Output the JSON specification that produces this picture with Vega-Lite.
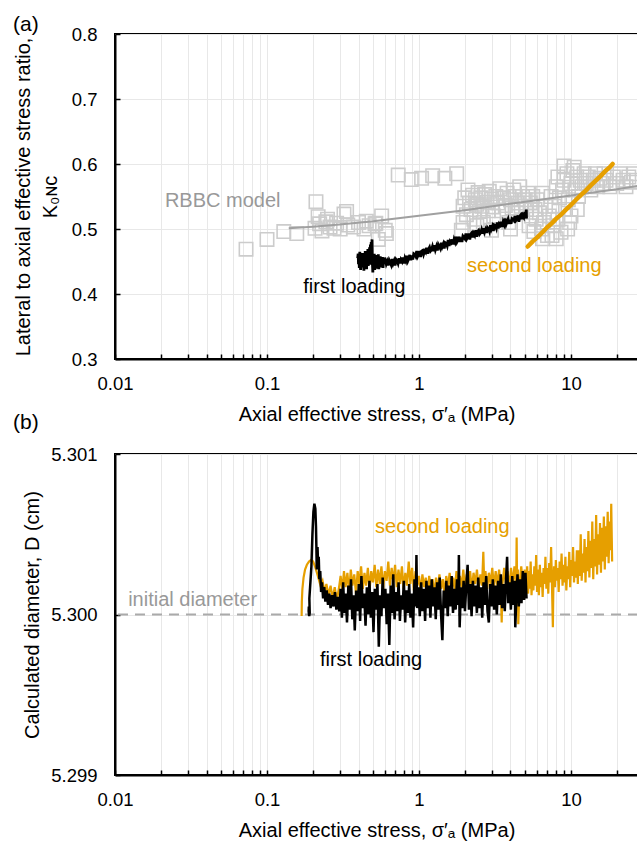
{
  "$schema": "https://vega.github.io/schema/vega-lite/v6.json",
  "autosize": {"type": "none"},
  "padding": {"left": 115, "top": 34, "right": 522, "bottom": 810},
  "background": "white",
  "bounds": "flush",
  "spacing": 95,
  "config": {
    "font": "Liberation Sans",
    "view": {"stroke": "#000000", "strokeWidth": 2},
    "axis": {
      "labelFont": "Liberation Sans", "labelFontSize": 18.5, "labelColor": "#000000",
      "titleFont": "Liberation Sans", "titleFontSize": 20, "titleFontWeight": "normal", "titleColor": "#000000",
      "domainColor": "#000000", "domainWidth": 2, "tickColor": "#000000", "tickWidth": 1.5,
      "gridColor": "#e8e8e8", "gridWidth": 1
    },
    "title": {"font": "Liberation Sans", "fontSize": 21, "fontWeight": "normal", "color": "#000000"}
  },
  "vconcat": [
    {
      "width": 523,
      "height": 325,
      "title": {"text": "(a)", "anchor": "start", "frame": "group", "dx": -102, "offset": 0, "dy": 27, "baseline": "alphabetic"},
      "layer": [
        {
          "data": {"values": [
            {"x":0.0728,"y":0.469},{"x":0.1,"y":0.484},{"x":0.129,"y":0.496},{"x":0.157,"y":0.493},{"x":0.207,"y":0.501},{"x":0.21,"y":0.542},{"x":0.217,"y":0.519},{"x":0.222,"y":0.508},{"x":0.23,"y":0.497},{"x":0.244,"y":0.511},{"x":0.25,"y":0.515},{"x":0.26,"y":0.503},{"x":0.276,"y":0.501},{"x":0.287,"y":0.509},{"x":0.303,"y":0.5},{"x":0.321,"y":0.523},{"x":0.334,"y":0.527},{"x":0.34,"y":0.506},{"x":0.37,"y":0.503},{"x":0.4,"y":0.51},{"x":0.435,"y":0.5},{"x":0.45,"y":0.512},{"x":0.47,"y":0.505},{"x":0.514,"y":0.508},{"x":0.52,"y":0.509},{"x":0.54,"y":0.484},{"x":0.568,"y":0.52},{"x":0.6,"y":0.498},{"x":0.61,"y":0.493},
            {"x":0.73,"y":0.583},{"x":0.89,"y":0.576},{"x":1.04,"y":0.578},{"x":1.23,"y":0.582},{"x":1.48,"y":0.578},{"x":1.77,"y":0.585},
            {"x":1.9,"y":0.498},{"x":1.95,"y":0.535},{"x":1.95,"y":0.51},{"x":2.0,"y":0.548},{"x":2.05,"y":0.522},{"x":2.1,"y":0.56},{"x":2.15,"y":0.54},{"x":2.2,"y":0.53},{"x":2.25,"y":0.552},{"x":2.3,"y":0.515},{"x":2.35,"y":0.545},{"x":2.4,"y":0.538},{"x":2.4,"y":0.505},{"x":2.45,"y":0.556},{"x":2.5,"y":0.527},{"x":2.55,"y":0.548},{"x":2.6,"y":0.535},{"x":2.65,"y":0.51},{"x":2.7,"y":0.553},{"x":2.8,"y":0.541},{"x":2.85,"y":0.528},{"x":2.9,"y":0.558},{"x":3.0,"y":0.546},{"x":3.0,"y":0.498},{"x":3.05,"y":0.534},{"x":3.1,"y":0.52},{"x":3.2,"y":0.55},{"x":3.3,"y":0.54},{"x":3.4,"y":0.562},{"x":3.5,"y":0.528},{"x":3.6,"y":0.548},{"x":3.7,"y":0.536},{"x":3.8,"y":0.555},{"x":3.9,"y":0.51},{"x":4.0,"y":0.545},{"x":4.0,"y":0.5},{"x":4.1,"y":0.532},{"x":4.2,"y":0.56},{"x":4.3,"y":0.55},{"x":4.4,"y":0.525},{"x":4.5,"y":0.54},{"x":4.6,"y":0.565},{"x":4.7,"y":0.535},{"x":4.8,"y":0.55},{"x":5.0,"y":0.545},{"x":5.1,"y":0.53},{"x":5.2,"y":0.555},{"x":5.3,"y":0.505},{"x":5.4,"y":0.54},{"x":5.5,"y":0.52},{"x":5.6,"y":0.55},{"x":5.7,"y":0.496},{"x":5.8,"y":0.53},{"x":5.9,"y":0.515},{"x":6.0,"y":0.545},{"x":6.2,"y":0.525},{"x":6.4,"y":0.5},{"x":6.5,"y":0.555},{"x":6.5,"y":0.485},{"x":6.6,"y":0.51},{"x":6.8,"y":0.535},{"x":7.0,"y":0.49},{"x":7.2,"y":0.52},{"x":7.4,"y":0.55},{"x":7.5,"y":0.49},{"x":7.6,"y":0.505},{"x":7.8,"y":0.535},{"x":8.0,"y":0.565},{"x":8.0,"y":0.485},{"x":8.2,"y":0.515},{"x":8.2,"y":0.58},{"x":8.4,"y":0.548},{"x":8.6,"y":0.495},{"x":8.8,"y":0.56},{"x":9.0,"y":0.575},{"x":9.0,"y":0.597},{"x":9.2,"y":0.53},{"x":9.4,"y":0.585},{"x":9.5,"y":0.5},{"x":9.6,"y":0.545},{"x":9.8,"y":0.51},{"x":10.0,"y":0.57},{"x":10.0,"y":0.52},{"x":10.3,"y":0.59},{"x":10.5,"y":0.595},{"x":10.6,"y":0.56},{"x":10.9,"y":0.58},{"x":11.0,"y":0.53},{"x":11.2,"y":0.55},{"x":11.5,"y":0.575},{"x":11.8,"y":0.565},{"x":12.2,"y":0.585},{"x":12.6,"y":0.57},{"x":13.0,"y":0.58},{"x":13.5,"y":0.56},{"x":14.0,"y":0.575},{"x":14.5,"y":0.585},{"x":15.0,"y":0.565},{"x":15.5,"y":0.578},{"x":16.0,"y":0.57},{"x":16.5,"y":0.585},{"x":17.0,"y":0.575},{"x":18.0,"y":0.565},{"x":19.0,"y":0.58},{"x":20.0,"y":0.57},{"x":21.0,"y":0.585},{"x":22.0,"y":0.575},{"x":23.0,"y":0.565},{"x":24.0,"y":0.58},{"x":25.0,"y":0.572},{"x":26.0,"y":0.585},{"x":27.0,"y":0.575}
          ]},
          "mark": {"type": "point", "shape": "square", "filled": false, "size": 180, "stroke": "#cccccc", "strokeWidth": 1.6, "opacity": 1, "clip": true},
          "encoding": {
            "x": {"field": "x", "type": "quantitative", "scale": {"type": "log", "domain": [0.01, 27.6], "nice": false},
              "axis": {"orient": "bottom", "values": [0.01,0.02,0.03,0.04,0.05,0.06,0.07,0.08,0.09,0.1,0.2,0.3,0.4,0.5,0.6,0.7,0.8,0.9,1,2,3,4,5,6,7,8,9,10,20],
                "format": "~g", "labelExpr": "abs(log(datum.value)/LN10 - round(log(datum.value)/LN10)) < 0.000001 ? datum.label : ''",
                "labelOverlap": false, "labelFlush": false, "tickSize": -5, "grid": true, "labelPadding": 20, "titlePadding": 12,
                "title": "Axial effective stress, σ′ₐ (MPa)"}},
            "y": {"field": "y", "type": "quantitative", "scale": {"domain": [0.3, 0.8], "nice": false, "zero": false},
              "axis": {"orient": "left", "values": [0.3,0.4,0.5,0.6,0.7,0.8], "format": ".1f", "tickSize": -5, "grid": true, "labelPadding": 23, "titlePadding": 11, "titleLineHeight": 27,
                "title": ["Lateral to axial effective stress ratio,", "K₀ɴᴄ"]}}
          }
        },
        {
          "data": {"values": [
            {"x":0.139,"y":0.501},{"x":0.2,"y":0.5035},{"x":0.3,"y":0.507},{"x":0.5,"y":0.512},{"x":1,"y":0.5205},{"x":2,"y":0.529},{"x":5,"y":0.542},{"x":10,"y":0.5515},{"x":20,"y":0.561},{"x":30,"y":0.568}
          ]},
          "mark": {"type": "line", "color": "#a0a0a0", "strokeWidth": 2, "clip": true},
          "encoding": {
            "x": {"field": "x", "type": "quantitative"},
            "y": {"field": "y", "type": "quantitative"}
          }
        },
        {
          "data": {"values": [
            {"x":0.395,"y":0.455},{"x":0.398,"y":0.462},{"x":0.400,"y":0.446},{"x":0.403,"y":0.458},{"x":0.405,"y":0.440},{"x":0.408,"y":0.465},{"x":0.410,"y":0.449},{"x":0.413,"y":0.437},{"x":0.416,"y":0.460},{"x":0.419,"y":0.452},{"x":0.422,"y":0.441},{"x":0.425,"y":0.463},{"x":0.428,"y":0.446},{"x":0.431,"y":0.457},{"x":0.434,"y":0.436},{"x":0.437,"y":0.459},{"x":0.440,"y":0.448},{"x":0.443,"y":0.466},{"x":0.446,"y":0.442},{"x":0.449,"y":0.455},{"x":0.452,"y":0.438},{"x":0.455,"y":0.461},{"x":0.458,"y":0.447},{"x":0.461,"y":0.469},{"x":0.464,"y":0.443},{"x":0.467,"y":0.458},{"x":0.470,"y":0.450},{"x":0.473,"y":0.472},{"x":0.476,"y":0.445},{"x":0.479,"y":0.476},{"x":0.482,"y":0.460},{"x":0.485,"y":0.480},{"x":0.488,"y":0.452},{"x":0.491,"y":0.484},{"x":0.494,"y":0.447},{"x":0.497,"y":0.433},{"x":0.500,"y":0.458},{"x":0.504,"y":0.440},{"x":0.508,"y":0.462},{"x":0.512,"y":0.437},{"x":0.516,"y":0.455},{"x":0.520,"y":0.443},{"x":0.524,"y":0.460},{"x":0.528,"y":0.439},{"x":0.532,"y":0.454},{"x":0.536,"y":0.445},{"x":0.540,"y":0.461},{"x":0.544,"y":0.438},{"x":0.548,"y":0.452},{"x":0.552,"y":0.446},{"x":0.556,"y":0.458},{"x":0.560,"y":0.441},{"x":0.565,"y":0.455},{"x":0.570,"y":0.444},{"x":0.575,"y":0.457},{"x":0.580,"y":0.440},{"x":0.585,"y":0.453},{"x":0.590,"y":0.446},{"x":0.595,"y":0.456},
            {"x":0.600,"y":0.453},{"x":0.609,"y":0.446},{"x":0.618,"y":0.450},{"x":0.627,"y":0.444},{"x":0.637,"y":0.452},{"x":0.646,"y":0.449},{"x":0.656,"y":0.445},{"x":0.666,"y":0.454},{"x":0.676,"y":0.447},{"x":0.686,"y":0.451},{"x":0.696,"y":0.444},{"x":0.707,"y":0.453},{"x":0.717,"y":0.451},{"x":0.728,"y":0.447},{"x":0.739,"y":0.455},{"x":0.750,"y":0.447},{"x":0.761,"y":0.453},{"x":0.773,"y":0.450},{"x":0.784,"y":0.456},{"x":0.796,"y":0.447},{"x":0.808,"y":0.455},{"x":0.820,"y":0.451},{"x":0.832,"y":0.459},{"x":0.845,"y":0.451},{"x":0.858,"y":0.455},{"x":0.870,"y":0.460},{"x":0.884,"y":0.452},{"x":0.897,"y":0.459},{"x":0.910,"y":0.453},{"x":0.924,"y":0.462},{"x":0.938,"y":0.461},{"x":0.952,"y":0.458},{"x":0.966,"y":0.466},{"x":0.981,"y":0.458},{"x":0.995,"y":0.461},
            {"x":1.010,"y":0.466},{"x":1.025,"y":0.457},{"x":1.041,"y":0.466},{"x":1.056,"y":0.467},{"x":1.072,"y":0.461},{"x":1.088,"y":0.466},{"x":1.105,"y":0.464},{"x":1.121,"y":0.471},{"x":1.138,"y":0.462},{"x":1.155,"y":0.469},{"x":1.173,"y":0.472},{"x":1.190,"y":0.466},{"x":1.208,"y":0.468},{"x":1.226,"y":0.473},{"x":1.245,"y":0.466},{"x":1.263,"y":0.475},{"x":1.282,"y":0.468},{"x":1.302,"y":0.473},{"x":1.321,"y":0.467},{"x":1.341,"y":0.476},{"x":1.361,"y":0.473},{"x":1.381,"y":0.470},{"x":1.402,"y":0.479},{"x":1.423,"y":0.473},{"x":1.445,"y":0.477},{"x":1.466,"y":0.470},{"x":1.488,"y":0.479},{"x":1.511,"y":0.478},{"x":1.533,"y":0.474},{"x":1.556,"y":0.483},{"x":1.580,"y":0.474},{"x":1.603,"y":0.481},{"x":1.627,"y":0.479},{"x":1.652,"y":0.484},{"x":1.677,"y":0.476},{"x":1.702,"y":0.484},{"x":1.727,"y":0.480},{"x":1.753,"y":0.488},{"x":1.779,"y":0.480},{"x":1.806,"y":0.483},{"x":1.833,"y":0.488},{"x":1.861,"y":0.480},{"x":1.889,"y":0.487},{"x":1.917,"y":0.480},{"x":1.946,"y":0.489},{"x":1.975,"y":0.487},
            {"x":2.004,"y":0.485},{"x":2.035,"y":0.493},{"x":2.065,"y":0.485},{"x":2.096,"y":0.488},{"x":2.127,"y":0.493},{"x":2.159,"y":0.484},{"x":2.192,"y":0.492},{"x":2.225,"y":0.494},{"x":2.258,"y":0.487},{"x":2.292,"y":0.493},{"x":2.326,"y":0.490},{"x":2.361,"y":0.498},{"x":2.396,"y":0.488},{"x":2.432,"y":0.496},{"x":2.469,"y":0.498},{"x":2.506,"y":0.492},{"x":2.543,"y":0.494},{"x":2.581,"y":0.499},{"x":2.620,"y":0.493},{"x":2.659,"y":0.501},{"x":2.699,"y":0.495},{"x":2.740,"y":0.499},{"x":2.781,"y":0.494},{"x":2.822,"y":0.502},{"x":2.865,"y":0.500},{"x":2.908,"y":0.496},{"x":2.951,"y":0.506},{"x":2.996,"y":0.500},
            {"x":3.040,"y":0.504},{"x":3.086,"y":0.497},{"x":3.132,"y":0.506},{"x":3.179,"y":0.505},{"x":3.227,"y":0.501},{"x":3.275,"y":0.510},{"x":3.324,"y":0.501},{"x":3.374,"y":0.508},{"x":3.425,"y":0.506},{"x":3.476,"y":0.511},{"x":3.528,"y":0.503},{"x":3.581,"y":0.511},{"x":3.635,"y":0.507},{"x":3.689,"y":0.516},{"x":3.745,"y":0.507},{"x":3.801,"y":0.511},{"x":3.858,"y":0.515},{"x":3.916,"y":0.508},{"x":3.974,"y":0.514},
            {"x":4.034,"y":0.508},{"x":4.094,"y":0.516},{"x":4.156,"y":0.515},{"x":4.218,"y":0.513},{"x":4.281,"y":0.520},{"x":4.346,"y":0.513},{"x":4.411,"y":0.515},{"x":4.477,"y":0.521},{"x":4.544,"y":0.511},{"x":4.612,"y":0.520},{"x":4.681,"y":0.522},{"x":4.752,"y":0.515},{"x":4.823,"y":0.521},{"x":4.895,"y":0.518},{"x":4.969,"y":0.526},{"x":5.043,"y":0.518},{"x":5.080,"y":0.530},{"x":5.100,"y":0.516}
          ]},
          "mark": {"type": "line", "color": "#000000", "strokeWidth": 2.8, "clip": true},
          "encoding": {
            "x": {"field": "x", "type": "quantitative"},
            "y": {"field": "y", "type": "quantitative"}
          }
        },
        {
          "data": {"values": [
            {"x":5.19,"y":0.473},{"x":5.6,"y":0.481},{"x":6.0,"y":0.487},{"x":6.5,"y":0.495},{"x":7.0,"y":0.503},{"x":7.5,"y":0.509},{"x":8.0,"y":0.516},{"x":8.6,"y":0.522},{"x":9.2,"y":0.529},{"x":10.0,"y":0.537},{"x":10.8,"y":0.545},{"x":11.6,"y":0.552},{"x":12.5,"y":0.559},{"x":13.5,"y":0.567},{"x":14.5,"y":0.574},{"x":15.6,"y":0.581},{"x":16.8,"y":0.589},{"x":18.0,"y":0.595},{"x":18.8,"y":0.600}
          ]},
          "mark": {"type": "line", "color": "#E69F00", "strokeWidth": 4.5, "strokeCap": "round", "clip": true},
          "encoding": {
            "x": {"field": "x", "type": "quantitative"},
            "y": {"field": "y", "type": "quantitative"}
          }
        },
        {
          "data": {"values": [
            {"x":0.0213,"y":0.543,"t":"RBBC model","c":"g"},
            {"x":0.173,"y":0.411,"t":"first loading","c":"k"},
            {"x":2.07,"y":0.443,"t":"second loading","c":"o"}
          ]},
          "mark": {"type": "text", "align": "left", "baseline": "middle", "fontSize": 20, "font": "Liberation Sans"},
          "encoding": {
            "x": {"field": "x", "type": "quantitative"},
            "y": {"field": "y", "type": "quantitative"},
            "text": {"field": "t"},
            "color": {"field": "c", "type": "nominal", "scale": {"domain": ["g","k","o"], "range": ["#999999","#000000","#E69F00"]}, "legend": null}
          }
        }
      ]
    },
    {
      "width": 523,
      "height": 321,
      "title": {"text": "(b)", "anchor": "start", "frame": "group", "dx": -102, "offset": 0, "dy": 5, "baseline": "alphabetic"},
      "layer": [
        {
          "data": {"values": [{}]},
          "mark": {"type": "rule", "strokeDash": [10, 7], "color": "#aaaaaa", "strokeWidth": 2},
          "encoding": {
            "y": {"datum": 5.3, "type": "quantitative", "scale": {"domain": [5.299, 5.301], "nice": false, "zero": false},
              "axis": {"orient": "left", "values": [5.299, 5.3, 5.301], "format": ".3f", "tickSize": -5, "grid": true, "labelPadding": 23, "titlePadding": 8,
                "title": "Calculated diameter, D (cm)"}}
          }
        },
        {
          "data": {"values": [
            {"x":0.1690,"y":5.29999},{"x":0.1695,"y":5.30008},{"x":0.1710,"y":5.30016},{"x":0.1740,"y":5.30023},{"x":0.1780,"y":5.30028},{"x":0.1830,"y":5.30031},{"x":0.1890,"y":5.30033},{"x":0.1950,"y":5.30034},{"x":0.2010,"y":5.30033},{"x":0.2070,"y":5.30030},{"x":0.2130,"y":5.30026},{"x":0.2190,"y":5.30022},{"x":0.2250,"y":5.30018},{"x":0.2320,"y":5.30021},{"x":0.2390,"y":5.30014},{"x":0.2460,"y":5.30019},{"x":0.2540,"y":5.30012},{"x":0.2620,"y":5.30018},{"x":0.2700,"y":5.30010},{"x":0.2790,"y":5.30017},{"x":0.2880,"y":5.30009},{"x":0.2970,"y":5.30016},
            {"x":0.305,"y":5.30024},{"x":0.313,"y":5.30015},{"x":0.321,"y":5.30027},{"x":0.329,"y":5.30017},{"x":0.338,"y":5.30026},{"x":0.347,"y":5.30014},{"x":0.356,"y":5.30028},{"x":0.365,"y":5.30018},{"x":0.375,"y":5.30025},{"x":0.385,"y":5.30013},{"x":0.395,"y":5.30027},{"x":0.405,"y":5.30019},{"x":0.416,"y":5.30030},{"x":0.427,"y":5.30016},{"x":0.438,"y":5.30026},{"x":0.449,"y":5.30018},{"x":0.461,"y":5.30029},{"x":0.473,"y":5.30015},{"x":0.485,"y":5.30027},{"x":0.498,"y":5.30020},{"x":0.511,"y":5.30031},{"x":0.524,"y":5.30017},{"x":0.538,"y":5.30028},{"x":0.552,"y":5.30019},{"x":0.566,"y":5.30030},{"x":0.581,"y":5.30016},{"x":0.596,"y":5.30027},{"x":0.612,"y":5.30021},{"x":0.628,"y":5.30033},{"x":0.644,"y":5.30018},{"x":0.661,"y":5.30029},{"x":0.678,"y":5.30020},{"x":0.696,"y":5.30031},{"x":0.714,"y":5.30017},{"x":0.733,"y":5.30028},{"x":0.752,"y":5.30019},{"x":0.772,"y":5.30030},{"x":0.792,"y":5.30016},{"x":0.813,"y":5.30026},{"x":0.834,"y":5.30018},{"x":0.856,"y":5.30033},{"x":0.878,"y":5.30019},{"x":0.901,"y":5.30029},{"x":0.925,"y":5.30015},{"x":0.949,"y":5.30027},{"x":0.974,"y":5.30018},{"x":1.000,"y":5.30024},{"x":1.026,"y":5.30014},{"x":1.053,"y":5.30025},{"x":1.080,"y":5.30017},{"x":1.108,"y":5.30023},{"x":1.137,"y":5.30013},{"x":1.167,"y":5.30024},{"x":1.198,"y":5.30016},{"x":1.229,"y":5.30022},{"x":1.261,"y":5.30012},{"x":1.294,"y":5.30023},{"x":1.328,"y":5.30015},{"x":1.363,"y":5.30025},{"x":1.399,"y":5.30016},{"x":1.435,"y":5.30022},{"x":1.473,"y":5.30013},{"x":1.511,"y":5.30024},{"x":1.551,"y":5.30017},{"x":1.591,"y":5.30026},{"x":1.633,"y":5.30014},{"x":1.676,"y":5.30023},{"x":1.720,"y":5.30016},{"x":1.765,"y":5.30027},{"x":1.811,"y":5.30015},{"x":1.858,"y":5.30024},{"x":1.907,"y":5.30017},{"x":1.957,"y":5.30028},{"x":2.008,"y":5.30016},{"x":2.061,"y":5.30025},{"x":2.115,"y":5.30018},{"x":2.170,"y":5.30027},{"x":2.227,"y":5.30015},{"x":2.285,"y":5.30026},{"x":2.345,"y":5.30019},{"x":2.406,"y":5.30028},{"x":2.469,"y":5.30016},{"x":2.534,"y":5.30025},{"x":2.600,"y":5.30018},{"x":2.650,"y":5.30039},{"x":2.690,"y":5.30017},{"x":2.737,"y":5.30027},{"x":2.809,"y":5.30016},{"x":2.882,"y":5.30026},{"x":2.958,"y":5.30019},{"x":3.035,"y":5.30029},{"x":3.114,"y":5.30017},{"x":3.196,"y":5.30027},{"x":3.279,"y":5.30018},{"x":3.365,"y":5.30028},{"x":3.453,"y":5.30016},{"x":3.500,"y":5.29995},{"x":3.543,"y":5.30019},{"x":3.636,"y":5.30029},{"x":3.731,"y":5.30018},{"x":3.829,"y":5.30027},{"x":3.929,"y":5.30016},{"x":4.032,"y":5.30029},{"x":4.138,"y":5.30019},{"x":4.246,"y":5.30030},{"x":4.357,"y":5.30018},{"x":4.390,"y":5.30048},{"x":4.420,"y":5.30020},{"x":4.471,"y":5.30028},{"x":4.500,"y":5.29994},{"x":4.588,"y":5.30019},{"x":4.708,"y":5.30030},{"x":4.831,"y":5.30018},{"x":4.957,"y":5.30028},{"x":5.087,"y":5.30016},
            {"x":5.15,"y":5.30030},{"x":5.22,"y":5.30013},{"x":5.29,"y":5.30027},{"x":5.36,"y":5.30016},{"x":5.43,"y":5.30033},{"x":5.50,"y":5.30012},{"x":5.58,"y":5.30025},{"x":5.66,"y":5.30015},{"x":5.74,"y":5.30030},{"x":5.82,"y":5.30018},{"x":5.90,"y":5.30037},{"x":5.98,"y":5.30014},{"x":6.06,"y":5.30028},{"x":6.15,"y":5.30012},{"x":6.24,"y":5.30031},{"x":6.33,"y":5.30017},{"x":6.42,"y":5.30026},{"x":6.51,"y":5.30011},{"x":6.60,"y":5.30029},{"x":6.70,"y":5.30019},{"x":6.79,"y":5.30036},{"x":6.89,"y":5.30016},{"x":6.99,"y":5.30029},{"x":7.09,"y":5.30013},{"x":7.19,"y":5.30032},{"x":7.30,"y":5.30020},{"x":7.40,"y":5.30042},{"x":7.51,"y":5.30015},{"x":7.60,"y":5.29992},{"x":7.66,"y":5.30019},{"x":7.73,"y":5.30030},{"x":7.84,"y":5.30017},{"x":7.95,"y":5.30034},{"x":8.07,"y":5.30021},{"x":8.18,"y":5.30029},{"x":8.30,"y":5.30014},{"x":8.42,"y":5.30033},{"x":8.55,"y":5.30022},{"x":8.67,"y":5.30038},{"x":8.80,"y":5.30018},{"x":8.93,"y":5.30031},{"x":9.06,"y":5.30020},{"x":9.19,"y":5.30036},{"x":9.32,"y":5.30015},{"x":9.46,"y":5.30030},{"x":9.60,"y":5.30022},{"x":9.74,"y":5.30039},{"x":9.88,"y":5.30017},{"x":10.02,"y":5.30034},{"x":10.17,"y":5.30024},{"x":10.32,"y":5.30042},{"x":10.47,"y":5.30020},{"x":10.62,"y":5.30033},{"x":10.78,"y":5.30023},{"x":10.93,"y":5.30040},{"x":11.09,"y":5.30019},{"x":11.26,"y":5.30040},{"x":11.42,"y":5.30024},{"x":11.59,"y":5.30050},{"x":11.76,"y":5.30021},{"x":11.93,"y":5.30038},{"x":12.11,"y":5.30026},{"x":12.28,"y":5.30047},{"x":12.46,"y":5.30020},{"x":12.65,"y":5.30042},{"x":12.83,"y":5.30027},{"x":13.02,"y":5.30052},{"x":13.21,"y":5.30023},{"x":13.41,"y":5.30046},{"x":13.61,"y":5.30029},{"x":13.81,"y":5.30058},{"x":14.01,"y":5.30022},{"x":14.22,"y":5.30047},{"x":14.43,"y":5.30030},{"x":14.64,"y":5.30062},{"x":14.85,"y":5.30025},{"x":15.07,"y":5.30050},{"x":15.29,"y":5.30031},{"x":15.52,"y":5.30057},{"x":15.75,"y":5.30026},{"x":15.98,"y":5.30054},{"x":16.21,"y":5.30033},{"x":16.45,"y":5.30061},{"x":16.69,"y":5.30028},{"x":16.94,"y":5.30055},{"x":17.18,"y":5.30036},{"x":17.44,"y":5.30064},{"x":17.69,"y":5.30032},{"x":17.95,"y":5.30058},{"x":18.21,"y":5.30040},{"x":18.40,"y":5.30069},{"x":18.55,"y":5.30048},{"x":18.65,"y":5.30033}
          ]},
          "mark": {"type": "line", "color": "#E69F00", "strokeWidth": 2.2, "clip": true},
          "encoding": {
            "x": {"field": "x", "type": "quantitative", "scale": {"type": "log", "domain": [0.01, 27.6], "nice": false},
              "axis": {"orient": "bottom", "values": [0.01,0.02,0.03,0.04,0.05,0.06,0.07,0.08,0.09,0.1,0.2,0.3,0.4,0.5,0.6,0.7,0.8,0.9,1,2,3,4,5,6,7,8,9,10,20],
                "format": "~g", "labelExpr": "abs(log(datum.value)/LN10 - round(log(datum.value)/LN10)) < 0.000001 ? datum.label : ''",
                "labelOverlap": false, "labelFlush": false, "tickSize": -5, "grid": true, "labelPadding": 20, "titlePadding": 12,
                "title": "Axial effective stress, σ′ₐ (MPa)"}},
            "y": {"field": "y", "type": "quantitative"},
            "order": {"value": null}
          }
        },
        {
          "data": {"values": [
            {"x":0.1905,"y":5.30003},{"x":0.1885,"y":5.30005},{"x":0.1880,"y":5.30002},{"x":0.1895,"y":5.29999},{"x":0.1910,"y":5.30001},{"x":0.1900,"y":5.30010},{"x":0.1960,"y":5.30030},{"x":0.1990,"y":5.30050},{"x":0.2020,"y":5.30064},{"x":0.2050,"y":5.30069},{"x":0.2080,"y":5.30066},{"x":0.2100,"y":5.30055},{"x":0.2115,"y":5.30040},{"x":0.2125,"y":5.30028},{"x":0.2135,"y":5.30035},{"x":0.2150,"y":5.30042},{"x":0.2170,"y":5.30030},{"x":0.2190,"y":5.30036},{"x":0.2210,"y":5.30022},{"x":0.2240,"y":5.30027},{"x":0.2270,"y":5.30014},{"x":0.2300,"y":5.30020},{"x":0.2340,"y":5.30010},{"x":0.2380,"y":5.30017},{"x":0.2420,"y":5.30008},{"x":0.2470,"y":5.30015},{"x":0.2520,"y":5.30006},{"x":0.2570,"y":5.30013},{"x":0.2620,"y":5.30004},{"x":0.2680,"y":5.30012},{"x":0.2740,"y":5.30005},{"x":0.2800,"y":5.30014},{"x":0.2860,"y":5.30003},{"x":0.2920,"y":5.30011},{"x":0.2990,"y":5.30002},
            {"x":0.305,"y":5.30016},{"x":0.311,"y":5.29998},{"x":0.317,"y":5.30020},{"x":0.323,"y":5.30001},{"x":0.329,"y":5.30013},{"x":0.336,"y":5.29995},{"x":0.343,"y":5.30018},{"x":0.350,"y":5.30003},{"x":0.357,"y":5.30022},{"x":0.364,"y":5.29997},{"x":0.371,"y":5.30012},{"x":0.378,"y":5.29990},{"x":0.386,"y":5.30015},{"x":0.394,"y":5.30002},{"x":0.402,"y":5.30019},{"x":0.410,"y":5.29996},{"x":0.418,"y":5.30024},{"x":0.427,"y":5.30004},{"x":0.436,"y":5.30013},{"x":0.445,"y":5.29993},{"x":0.454,"y":5.30017},{"x":0.463,"y":5.30000},{"x":0.472,"y":5.30021},{"x":0.482,"y":5.29998},{"x":0.492,"y":5.30014},{"x":0.502,"y":5.29989},{"x":0.512,"y":5.30016},{"x":0.522,"y":5.30003},{"x":0.533,"y":5.30019},{"x":0.544,"y":5.29980},{"x":0.555,"y":5.30012},{"x":0.566,"y":5.29999},{"x":0.577,"y":5.30023},{"x":0.589,"y":5.30004},{"x":0.601,"y":5.30016},{"x":0.613,"y":5.29994},{"x":0.625,"y":5.30013},{"x":0.638,"y":5.29981},{"x":0.651,"y":5.30018},{"x":0.664,"y":5.30001},{"x":0.677,"y":5.30025},{"x":0.691,"y":5.29997},{"x":0.705,"y":5.30014},{"x":0.719,"y":5.30002},{"x":0.734,"y":5.30020},{"x":0.749,"y":5.29996},{"x":0.764,"y":5.30012},{"x":0.779,"y":5.30003},{"x":0.795,"y":5.30021},{"x":0.811,"y":5.29995},{"x":0.828,"y":5.30015},{"x":0.845,"y":5.30001},{"x":0.862,"y":5.30019},{"x":0.879,"y":5.29998},{"x":0.897,"y":5.30013},{"x":0.915,"y":5.29992},{"x":0.934,"y":5.30022},{"x":0.953,"y":5.30005},{"x":0.962,"y":5.30037},{"x":0.972,"y":5.30004},{"x":0.992,"y":5.30017},{"x":1.012,"y":5.29999},{"x":1.033,"y":5.30020},{"x":1.054,"y":5.30002},{"x":1.075,"y":5.30016},{"x":1.097,"y":5.29996},{"x":1.119,"y":5.30021},{"x":1.142,"y":5.30004},{"x":1.165,"y":5.30018},{"x":1.189,"y":5.29998},{"x":1.213,"y":5.30022},{"x":1.238,"y":5.30005},{"x":1.263,"y":5.30017},{"x":1.289,"y":5.29997},{"x":1.315,"y":5.30020},{"x":1.342,"y":5.30003},{"x":1.369,"y":5.30023},{"x":1.397,"y":5.30000},{"x":1.425,"y":5.29984},{"x":1.454,"y":5.30015},{"x":1.484,"y":5.30004},{"x":1.514,"y":5.30021},{"x":1.545,"y":5.29999},{"x":1.576,"y":5.30018},{"x":1.608,"y":5.30005},{"x":1.641,"y":5.30024},{"x":1.674,"y":5.30001},{"x":1.708,"y":5.30016},{"x":1.743,"y":5.30003},{"x":1.778,"y":5.30022},{"x":1.814,"y":5.30006},{"x":1.830,"y":5.30037},{"x":1.851,"y":5.29992},{"x":1.889,"y":5.30017},{"x":1.927,"y":5.30004},{"x":1.966,"y":5.30021},{"x":2.006,"y":5.30002},{"x":2.047,"y":5.30018},{"x":2.089,"y":5.30031},{"x":2.131,"y":5.30003},{"x":2.174,"y":5.30019},{"x":2.218,"y":5.29999},{"x":2.263,"y":5.30021},{"x":2.309,"y":5.30005},{"x":2.356,"y":5.30018},{"x":2.404,"y":5.30001},{"x":2.453,"y":5.30023},{"x":2.503,"y":5.30004},{"x":2.554,"y":5.30017},{"x":2.606,"y":5.29998},{"x":2.659,"y":5.30020},{"x":2.713,"y":5.30006},{"x":2.768,"y":5.30024},{"x":2.824,"y":5.30002},{"x":2.880,"y":5.29995},{"x":2.940,"y":5.30019},{"x":3.000,"y":5.30005},{"x":3.061,"y":5.30022},{"x":3.123,"y":5.30003},{"x":3.186,"y":5.30018},{"x":3.251,"y":5.30000},{"x":3.317,"y":5.30021},{"x":3.384,"y":5.30006},{"x":3.453,"y":5.30025},{"x":3.523,"y":5.30004},{"x":3.595,"y":5.30019},{"x":3.668,"y":5.30002},{"x":3.742,"y":5.30023},{"x":3.800,"y":5.30036},{"x":3.865,"y":5.30007},{"x":3.943,"y":5.30020},{"x":4.023,"y":5.30003},{"x":4.105,"y":5.30024},{"x":4.188,"y":5.30006},{"x":4.273,"y":5.30021},{"x":4.300,"y":5.29992},{"x":4.360,"y":5.30008},{"x":4.448,"y":5.30025},{"x":4.538,"y":5.30005},{"x":4.630,"y":5.30022},{"x":4.724,"y":5.30007},{"x":4.820,"y":5.30027},{"x":4.918,"y":5.30009},{"x":5.018,"y":5.30026},{"x":5.100,"y":5.30010}
          ]},
          "mark": {"type": "line", "color": "#000000", "strokeWidth": 2.5, "clip": true},
          "encoding": {
            "x": {"field": "x", "type": "quantitative"},
            "y": {"field": "y", "type": "quantitative"},
            "order": {"value": null}
          }
        },
        {
          "data": {"values": [
            {"x":0.0122,"y":5.30009,"t":"initial diameter","c":"g"},
            {"x":0.514,"y":5.300547,"t":"second loading","c":"o"},
            {"x":0.223,"y":5.299717,"t":"first loading","c":"k"}
          ]},
          "mark": {"type": "text", "align": "left", "baseline": "middle", "fontSize": 20, "font": "Liberation Sans"},
          "encoding": {
            "x": {"field": "x", "type": "quantitative"},
            "y": {"field": "y", "type": "quantitative"},
            "text": {"field": "t"},
            "color": {"field": "c", "type": "nominal", "scale": {"domain": ["g","k","o"], "range": ["#999999","#000000","#E69F00"]}, "legend": null}
          }
        }
      ]
    }
  ]
}
